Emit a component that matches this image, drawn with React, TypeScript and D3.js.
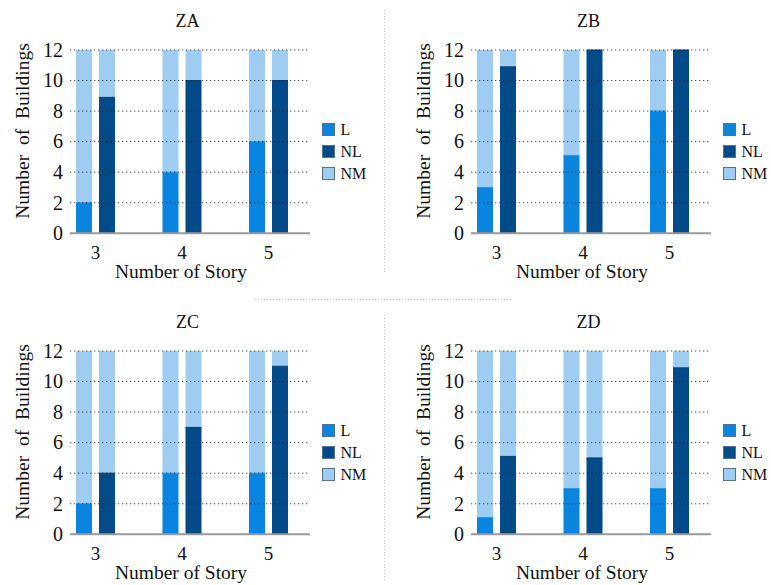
import React from "react";
import * as d3 from "d3";

// Number-of-story categories shown on every panel
const stories = ["3", "4", "5"];

// Panel titles (zones)
const zones = ["ZA", "ZB", "ZC", "ZD"];

// Buildings per story, first bar of each pair: L stacked under NM
const lZA = [2, 4, 6];
const nmOverLZA = [10, 8, 6];
const lZB = [3, 5.1, 8];
const nmOverLZB = [9, 6.9, 4];
const lZC = [2, 4, 4];
const nmOverLZC = [10, 8, 8];
const lZD = [1.1, 3, 3];
const nmOverLZD = [10.9, 9, 9];

// Second bar of each pair: NL stacked under NM
const nlZA = [8.9, 10, 10];
const nmOverNLZA = [3.1, 2, 2];
const nlZB = [10.9, 12, 12];
const nmOverNLZB = [1.1, 0, 0];
const nlZC = [4, 7, 11];
const nmOverNLZC = [8, 5, 1];
const nlZD = [5.1, 5, 10.9];
const nmOverNLZD = [6.9, 7, 1.1];

const yTicks = [0, 2, 4, 6, 8, 10, 12];
const legendKeys = ["L", "NL", "NM"];

const panelData = [
  { l: lZA, nmL: nmOverLZA, nl: nlZA, nmNL: nmOverNLZA },
  { l: lZB, nmL: nmOverLZB, nl: nlZB, nmNL: nmOverNLZB },
  { l: lZC, nmL: nmOverLZC, nl: nlZC, nmNL: nmOverNLZC },
  { l: lZD, nmL: nmOverLZD, nl: nlZD, nmNL: nmOverNLZD },
];

const colors: Record<string, string> = {
  L: "#0985df",
  NL: "#024a88",
  NM: "#9fcdf2",
};

const FONT = "Liberation Serif, Times New Roman, serif";
const W = 771;
const H = 585;

const offsets = [
  [0, 0],
  [401, 0],
  [0, 301],
  [401, 301],
];

const textStyle = (size: number): React.CSSProperties => ({
  fontFamily: FONT,
  fontSize: size,
  fill: "#111",
});

function Panel({ idx }: { idx: number }) {
  const d = panelData[idx];
  const [ox, oy] = offsets[idx];
  const plotLeft = 70;
  const plotRight = 310;
  const y = d3.scaleLinear().domain([0, 12]).range([233.3, 50]);
  const x = d3.scalePoint<string>().domain(stories).range([95.5, 268.5]);
  const barW = 16;
  const half = 11.5;

  const stack = (
    cx: number,
    bottomVal: number,
    topVal: number,
    bottomKey: string,
    key: string
  ) => {
    const y0 = y(0);
    const y1 = y(bottomVal);
    const y2 = y(bottomVal + topVal);
    return (
      <g key={key}>
        {bottomVal > 0 && (
          <rect
            x={cx - barW / 2}
            y={y1}
            width={barW}
            height={y0 - y1}
            fill={colors[bottomKey]}
          />
        )}
        {topVal > 0 && (
          <rect
            x={cx - barW / 2}
            y={y2}
            width={barW}
            height={y1 - y2}
            fill={colors.NM}
          />
        )}
        {bottomVal > 0 && (
          <line
            x1={cx - barW / 2}
            x2={cx + barW / 2}
            y1={y1}
            y2={y1}
            stroke={bottomKey === "NL" ? "#013a6c" : "#2e93e2"}
            strokeWidth={1}
          />
        )}
      </g>
    );
  };

  return (
    <g transform={`translate(${ox},${oy})`}>
      <text x={187.5} y={27} style={textStyle(18)} textAnchor="middle">
        {zones[idx]}
      </text>
      {stories.map((s, i) => {
        const c = x(s)!;
        return (
          <g key={s}>
            {stack(c - half, d.l[i], d.nmL[i], "L", "a" + s)}
            {stack(c + half, d.nl[i], d.nmNL[i], "NL", "b" + s)}
          </g>
        );
      })}
      {yTicks
        .filter((t) => t > 0)
        .map((t) => (
          <line
            key={t}
            x1={plotLeft}
            x2={plotRight}
            y1={y(t)}
            y2={y(t)}
            stroke="#222"
            strokeOpacity={0.8}
            strokeWidth={1}
            strokeDasharray="1.3 2.7"
          />
        ))}
      <line
        x1={plotLeft}
        x2={plotRight}
        y1={y(0)}
        y2={y(0)}
        stroke="#9a9a9a"
        strokeWidth={2}
      />
      {yTicks.map((t) => (
        <text
          key={t}
          x={63}
          y={y(t)}
          dy="0.34em"
          style={textStyle(20)}
          textAnchor="end"
        >
          {t}
        </text>
      ))}
      {stories.map((s) => (
        <text
          key={s}
          x={x(s)!}
          y={259}
          style={textStyle(19)}
          textAnchor="middle"
        >
          {s}
        </text>
      ))}
      <text x={181} y={278} style={textStyle(19.5)} textAnchor="middle">
        Number of Story
      </text>
      <text
        transform="translate(29,131) rotate(-90)"
        style={{ ...textStyle(19.5), whiteSpace: "pre" }}
        textAnchor="middle"
      >
        {"Number  of  Buildings"}
      </text>
      {legendKeys.map((k, i) => (
        <g key={k} transform={`translate(322,${123 + i * 22})`}>
          <rect
            x={0.5}
            y={0.5}
            width={12}
            height={12}
            fill={colors[k]}
            stroke="#56718a"
            strokeWidth={1}
          />
          <text x={18.5} y={6.5} dy="0.35em" style={textStyle(16)}>
            {k}
          </text>
        </g>
      ))}
    </g>
  );
}

export default function App() {
  return (
    <svg
      width={W}
      height={H}
      style={{ position: "absolute", left: 0, top: 0, background: "#fff" }}
    >
      <rect width={W} height={H} fill="#fff" />
      {/* dotted separators between panels */}
      <g stroke="#c8c8c8" strokeWidth={1} strokeDasharray="1 2">
        <line x1={384.5} x2={384.5} y1={10} y2={272} />
        <line x1={384.5} x2={384.5} y1={315} y2={580} />
        <line x1={255} x2={513} y1={299.5} y2={299.5} />
      </g>
      {zones.map((z, i) => (
        <Panel key={z} idx={i} />
      ))}
    </svg>
  );
}
